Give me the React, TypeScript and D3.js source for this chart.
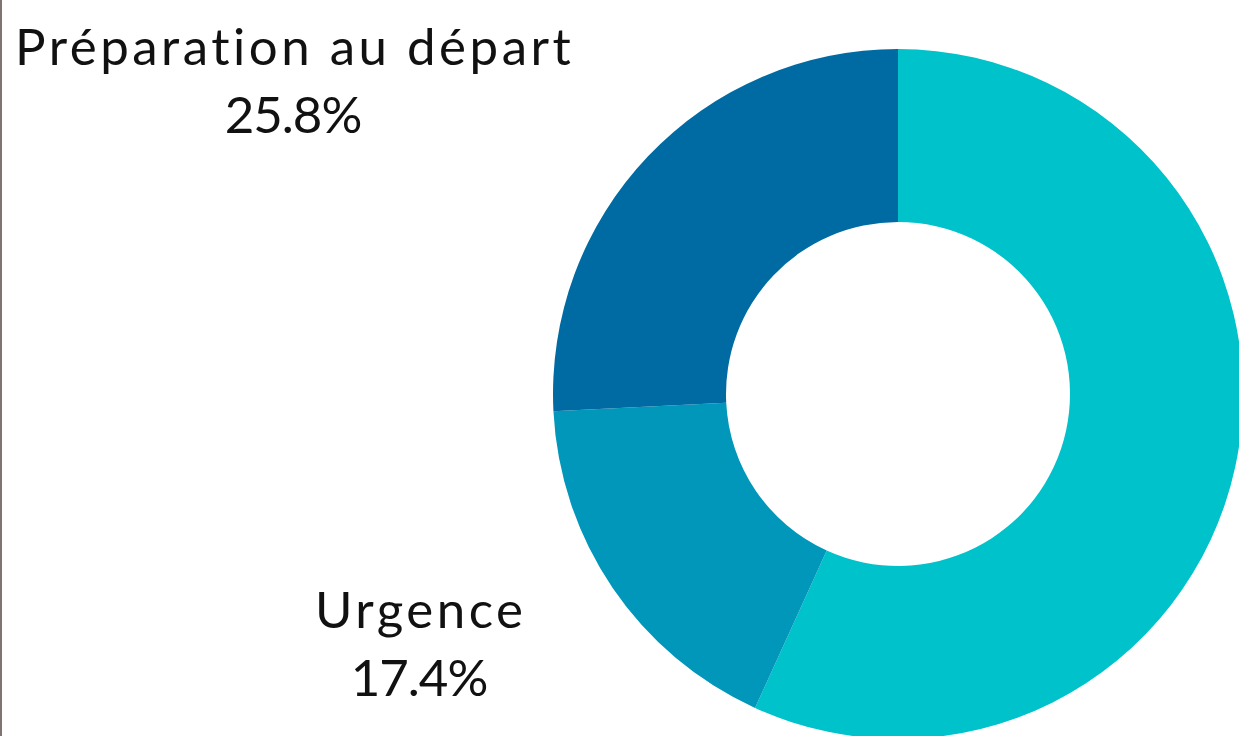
import React from "react";
import * as d3 from "d3";

const categories = ["Autre", "Urgence", "Préparation au départ"];
const values = [56.8, 17.4, 25.8];
const colors = ["#00C2CB", "#0097BA", "#006BA3"];
const showLabel = [false, true, true];

const W = 1239;
const H = 736;
const cx = 898;
const cy = 394;
const outerR = 345;
const innerR = 172;

export default function App() {
  const pie = d3.pie<number>().sort(null).value((d) => d);
  const arcs = pie(values);
  const arcGen = d3.arc<d3.PieArcDatum<number>>().innerRadius(innerR).outerRadius(outerR);
  const fmt = (v: number) => v.toFixed(1) + "%";
  // label anchor offsets relative to chart center (x center of text, baseline of first line)
  const labelPos: Record<number, [number, number]> = {
    1: [-479, 234],
    2: [-605, -329],
  };
  return (
    <svg
      width={W}
      height={H}
      style={{ position: "absolute", left: 0, top: 0, background: "#fff" }}
      fontFamily="Lato, sans-serif"
    >
      <rect x={0} y={0} width={2} height={H} fill="#7f7471" />
      <g transform={`translate(${cx},${cy})`}>
        {arcs.map((a, i) => (
          <path key={i} d={arcGen(a) || ""} fill={colors[i]} />
        ))}
        {arcs.map((a, i) =>
          showLabel[i] ? (
            <text
              key={"l" + i}
              textAnchor="middle"
              fontSize={51}
              fontWeight={400}
              fill="#111"
            >
              <tspan x={labelPos[i][0] + 1.7} y={labelPos[i][1]} letterSpacing={3.5}>
                {categories[i]}
              </tspan>
              <tspan x={labelPos[i][0]} y={labelPos[i][1] + 68} letterSpacing={-1}>
                {fmt(values[i])}
              </tspan>
            </text>
          ) : null
        )}
      </g>
    </svg>
  );
}
